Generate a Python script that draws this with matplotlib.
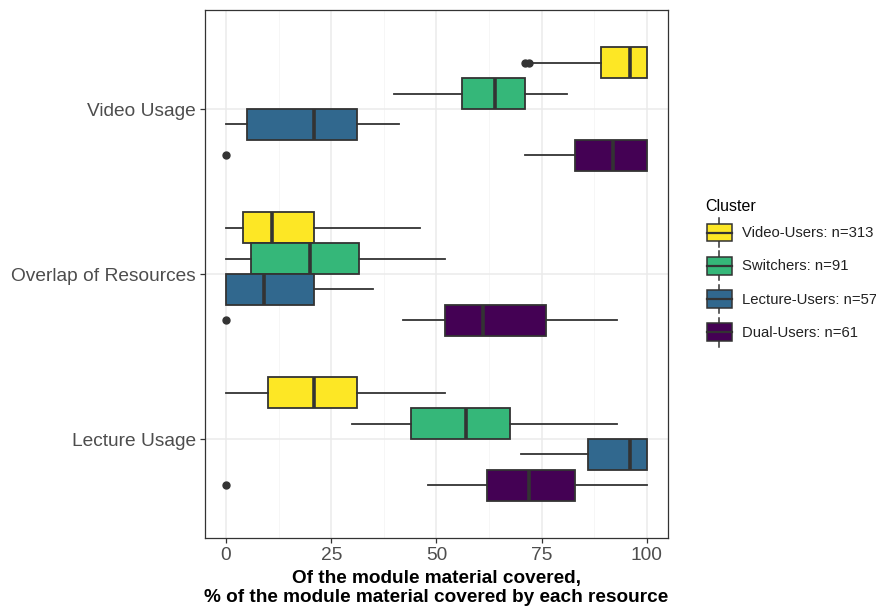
import matplotlib.pyplot as plt
from matplotlib.patches import Rectangle
from matplotlib.lines import Line2D
from matplotlib.legend_handler import HandlerBase

plt.rcParams['font.family'] = ['Liberation Sans', 'DejaVu Sans']

# categories top to bottom
categories = ['Video Usage', 'Overlap of Resources', 'Lecture Usage']
clusters = ['Video-Users: n=313', 'Switchers: n=91', 'Lecture-Users: n=57', 'Dual-Users: n=61']
colors = ['#FDE725', '#35B779', '#31688E', '#440154']

# per cluster, per category (Video, Overlap, Lecture): low whisker, q1, median, q3, high whisker
whislo = [[72, 0, 0], [40, 0, 30], [0, 0, 70], [71, 42, 48]]
q1 = [[89, 4, 10], [56, 6, 44], [5, 0, 86], [83, 52, 62]]
med = [[96, 11, 21], [64, 20, 57], [21, 9, 96], [92, 61, 72]]
q3 = [[100, 21, 31], [71, 31.5, 67.5], [31, 21, 100], [100, 76, 83]]
whishi = [[100, 46, 52], [81, 52, 93], [41, 35, 100], [100, 93, 100]]
fliers = [[[71, 72], [], []], [[], [], []], [[], [], []], [[0], [0], [0]]]

xticks = [0, 25, 50, 75, 100]

fig = plt.figure(figsize=(8.76, 6.1), dpi=100)
ax = fig.add_axes([0.234, 0.118, 0.5285, 0.8656])

edge = '#333333'
bw = 0.1875
offsets = [1.5 * bw, 0.5 * bw, -0.5 * bw, -1.5 * bw]
cat_y = [3, 2, 1]

for ci in range(len(clusters)):
    stats = []
    for k in range(len(categories)):
        stats.append(dict(whislo=whislo[ci][k], q1=q1[ci][k], med=med[ci][k],
                          q3=q3[ci][k], whishi=whishi[ci][k], fliers=fliers[ci][k]))
    pos = [y + offsets[ci] for y in cat_y]
    ax.bxp(stats, positions=pos, widths=bw, orientation='horizontal',
           patch_artist=True, showcaps=False, manage_ticks=False,
           boxprops=dict(facecolor=colors[ci], edgecolor=edge, linewidth=1.3),
           medianprops=dict(color=edge, linewidth=2.6),
           whiskerprops=dict(color=edge, linewidth=1.3),
           flierprops=dict(marker='o', markerfacecolor=edge, markeredgecolor=edge,
                           markersize=5))

ax.set_xlim(-5, 105)
ax.set_ylim(0.4, 3.6)
ax.set_xticks(xticks)
ax.set_xticks([12.5, 37.5, 62.5, 87.5], minor=True)
ax.set_yticks(cat_y)
ax.set_yticklabels(categories)
ax.grid(which='major', color='#ebebeb', linewidth=1.1)
ax.grid(which='minor', axis='x', color='#f5f5f5', linewidth=0.6)
ax.set_axisbelow(True)
ax.tick_params(which='major', length=3.5, color=edge, labelsize=13.8,
               labelcolor='#4d4d4d', width=0.9, pad=3)
ax.tick_params(which='minor', length=0)
for s in ax.spines.values():
    s.set_color(edge)
    s.set_linewidth(0.9)

ax.set_xlabel('Of the module material covered,\n% of the module material covered by each resource',
              fontsize=13.7, fontweight='bold', labelpad=4, linespacing=1.15)


class BoxKey(HandlerBase):
    def create_artists(self, legend, orig, xd, yd, w, h, fontsize, trans):
        cx = -xd + w / 2
        cy = -yd + h / 2
        arts = [Line2D([cx, cx], [-yd, -yd + h], color=edge, lw=1.1, transform=trans),
                Rectangle((-xd + 1, -yd + h * 0.19), w - 2, h * 0.62,
                          facecolor=orig.get_facecolor(), edgecolor=edge, lw=1.1,
                          transform=trans),
                Line2D([-xd + 1, -xd + w - 1], [cy, cy], color=edge, lw=1.6, transform=trans)]
        return arts


handles = [Rectangle((0, 0), 1, 1, facecolor=c) for c in colors]
leg = fig.legend(handles, clusters, handler_map={Rectangle: BoxKey()},
                 loc='center left', bbox_to_anchor=(0.797, 0.553), frameon=False,
                 title='Cluster', fontsize=10.7, title_fontsize=11.5,
                 handlelength=1.85, handleheight=2.6, labelspacing=0.3,
                 handletextpad=0.6, borderpad=0, alignment='left')
for t in leg.get_texts():
    t.set_color('#222222')

fig.savefig('out.png', dpi=100)
